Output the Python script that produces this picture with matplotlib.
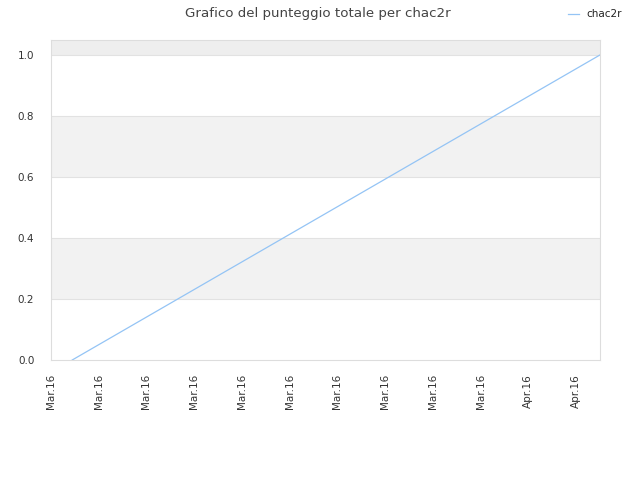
import numpy as np
import pandas as pd
import matplotlib
matplotlib.use("Agg")
import matplotlib.pyplot as plt
import matplotlib.dates as mdates

# data
dates = pd.to_datetime(["2016-03-04 08:00", "2016-04-06 12:00"])
scores = [0.0, 1.0]
series_name = "chac2r"
title = "Grafico del punteggio totale per chac2r"
yticks = [0.0, 0.2, 0.4, 0.6, 0.8, 1.0]

fig = plt.figure(figsize=(6.4, 4.8), dpi=100)
ax = fig.add_axes([51 / 640, 0.25, 549 / 640, 320 / 480])

ymax = 1.049
ax.set_ylim(0, ymax)
ax.set_xlim(pd.Timestamp("2016-03-03"), dates[-1])

# alternating bands
band_edges = yticks + [ymax]
for i in range(len(band_edges) - 1):
    if i % 2 == 1:
        c = "#eeeeee" if band_edges[i + 1] == ymax else "#f2f2f2"
        ax.axhspan(band_edges[i], band_edges[i + 1], color=c, zorder=0, lw=0)
for y in band_edges[1:-1]:
    ax.axhline(y, color="#e2e2e2", lw=0.8, zorder=0.5)

ax.plot(dates, scores, color="#94c4f5", lw=0.9, label=series_name, zorder=2)

ax.set_yticks(yticks)
ticks = pd.date_range("2016-03-03", periods=12, freq="3D")
ax.set_xticks(ticks)
ax.xaxis.set_major_formatter(mdates.DateFormatter("%b.%y"))
ax.tick_params(axis="both", length=0, labelsize=7.5, colors="#333333", pad=10)
ax.tick_params(axis="y", pad=12)
plt.setp(ax.get_xticklabels(), rotation=90)

for s in ax.spines.values():
    s.set_color("#dddddd")
    s.set_linewidth(0.8)

fig.suptitle(title, y=0.985, fontsize=9.6, color="#444444", x=0.497)
fig.legend(loc="upper right", bbox_to_anchor=(0.986, 1.0), frameon=False,
           fontsize=7.5, handlelength=1.0, handletextpad=0.7, labelcolor="#222222")

fig.savefig("out.png", dpi=100)
